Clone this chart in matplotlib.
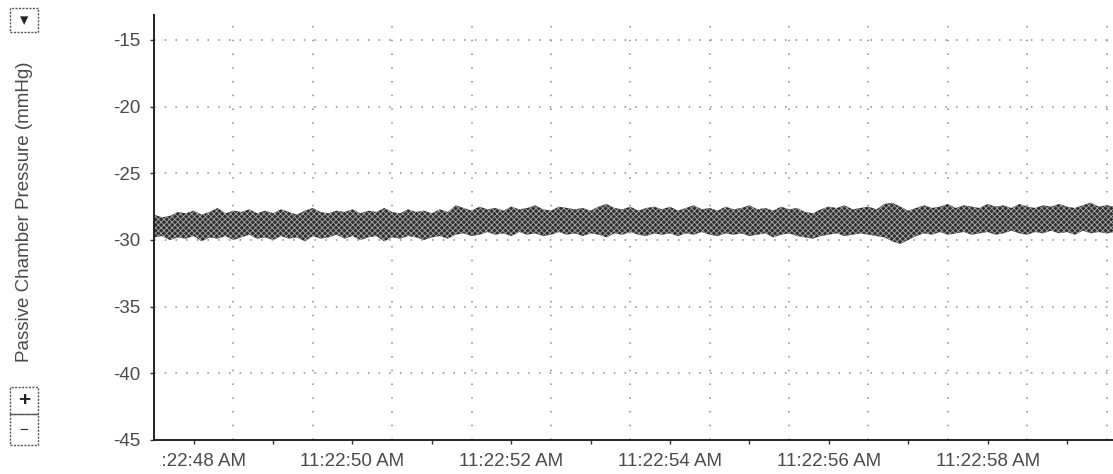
import numpy as np
import matplotlib
matplotlib.use("Agg")
import matplotlib.pyplot as plt
from matplotlib.patches import Rectangle
from matplotlib.transforms import Bbox

# ---------------- data ----------------
t_start, t_step = 47.5, 0.1      # seconds after 11:22:00
upper = [-28.1, -28.3, -28.2, -27.9,
         -28.0, -27.8, -28.1, -27.9, -27.6, -28.0, -27.8, -27.9, -27.7, -28.0,
         -27.8, -28.0, -27.7, -27.9, -28.1, -27.8, -27.6, -27.9, -28.0, -27.8,
         -27.9, -27.7, -28.0, -27.8, -27.9, -27.6, -27.9, -28.0, -27.7, -27.9,
         -27.8, -28.0, -27.7, -27.9, -27.4, -27.6, -27.8, -27.5, -27.7, -27.6,
         -27.8, -27.5, -27.7, -27.6, -27.4, -27.7, -27.8, -27.5, -27.6, -27.7,
         -27.6, -27.8, -27.5, -27.3, -27.6, -27.7, -27.5, -27.8, -27.6, -27.5,
         -27.7, -27.5, -27.8, -27.6, -27.4, -27.7, -27.6, -27.8, -27.5, -27.7,
         -27.6, -27.4, -27.7, -27.6, -27.8, -27.5, -27.7, -27.6, -27.9, -28.0,
         -27.7, -27.5, -27.6, -27.4, -27.7, -27.6, -27.5, -27.7, -27.3, -27.2,
         -27.5, -27.8, -27.6, -27.4, -27.6, -27.5, -27.3, -27.6, -27.4, -27.5,
         -27.6, -27.3, -27.5, -27.4, -27.6, -27.3, -27.5, -27.6, -27.4, -27.5,
         -27.3, -27.5, -27.6, -27.4, -27.2, -27.5, -27.4, -27.5]
lower = [-29.8, -29.7, -30.0, -29.8,
         -29.9, -29.7, -30.1, -29.8, -29.9, -29.7, -30.0, -29.8, -29.6, -29.9,
         -29.8, -30.0, -29.7, -29.9, -29.8, -30.1, -29.7, -29.9, -29.8, -29.6,
         -29.9, -29.7, -30.0, -29.8, -29.7, -30.1, -29.8, -29.9, -29.7, -29.8,
         -30.0, -29.8, -29.7, -29.9, -29.6, -29.5, -29.7, -29.6, -29.4, -29.6,
         -29.5, -29.7, -29.4, -29.6, -29.5, -29.7, -29.6, -29.4, -29.6, -29.5,
         -29.7, -29.5, -29.6, -29.8, -29.5, -29.6, -29.4, -29.6, -29.7, -29.5,
         -29.6, -29.5, -29.7, -29.5, -29.6, -29.4, -29.6, -29.7, -29.5, -29.6,
         -29.5, -29.7, -29.6, -29.5, -29.8, -29.6, -29.5, -29.7, -29.8, -29.9,
         -29.7, -29.6, -29.5, -29.7, -29.6, -29.5, -29.6, -29.7, -29.8, -30.1,
         -30.3, -30.0, -29.7, -29.5, -29.6, -29.4, -29.6, -29.5, -29.4, -29.6,
         -29.5, -29.4, -29.6, -29.5, -29.3, -29.5, -29.6, -29.4, -29.5, -29.3,
         -29.5, -29.4, -29.6, -29.3, -29.5, -29.4, -29.5, -29.4]
x_ticks = [48, 49, 50, 51, 52, 53, 54, 55, 56, 57, 58, 59]
x_tick_labels = ["11:22:48 AM", "", "11:22:50 AM", "", "11:22:52 AM", "",
                 "11:22:54 AM", "", "11:22:56 AM", "", "11:22:58 AM", ""]
y_ticks = [-45, -40, -35, -30, -25, -20, -15]
y_label = "Passive Chamber Pressure (mmHg)"

t = t_start + t_step * np.arange(len(upper))

# ---------------- figure ----------------
W, H = 1113, 474
plt.rcParams['font.family'] = ['Liberation Sans', 'DejaVu Sans']
plt.rcParams['axes.unicode_minus'] = False
plt.rcParams['hatch.linewidth'] = 0.6
fig = plt.figure(figsize=(W / 100, H / 100), dpi=100)

def fx(px):
    return px / W

def fy(py):
    return 1 - py / H

left_px, right_px, top_px, bot_px = 154, 1113, 15, 440
ax = fig.add_axes([fx(left_px), fy(bot_px), fx(right_px) - fx(left_px), fy(top_px) - fy(bot_px)])

ax.fill_between(t, lower, upper, facecolor='#2e2e2e', edgecolor='#a8a8a8',
                hatch='xxxxxx', linewidth=0, zorder=3)

ax.set_xlim(47.58, 59.58)
ax.set_ylim(-45, -13.125)

ax.set_xticks(x_ticks, x_tick_labels)
ax.set_xticks(np.arange(47.5, 60.0, 0.5), minor=True)
ax.set_yticks(y_ticks)

txtcol = '#4a4a4a'
ax.tick_params(axis='x', which='major', length=3, width=1, color='#333333',
               pad=6, labelsize=13.5, labelcolor=txtcol)
ax.tick_params(axis='x', which='minor', length=0)
ax.tick_params(axis='y', length=3, width=1, color='#333333', pad=7,
               labelsize=13.5, labelcolor=txtcol)

ax.grid(True, axis='x', which='minor', color='#8a8a8a', linestyle=(0, (1, 8)), linewidth=1.1)
ax.grid(True, axis='y', which='major', color='#8a8a8a', linestyle=(0, (1, 6)), linewidth=1.1)
ax.set_axisbelow(True)

for s in ['top', 'right']:
    ax.spines[s].set_visible(False)
for s in ['left', 'bottom']:
    ax.spines[s].set_color('#222222')
    ax.spines[s].set_linewidth(1.4)
    ax.spines[s].set_zorder(4)

# clip the first tick label just right of the plot's left edge, as in the reference
clip = Bbox([[160, 0], [W + 50, H - bot_px]])
for lab in ax.get_xticklabels():
    lab.set_clip_box(clip)
    lab.set_clip_on(True)

fig.text(fx(25), fy(212), y_label, rotation=90, ha='center', va='center',
         fontsize=13.5, color=txtcol)

# small widget buttons on the left
def box(x0, y0, x1, y1):
    fig.patches.append(Rectangle((fx(x0), fy(y1)), fx(x1) - fx(x0), fy(y0) - fy(y1),
                                 transform=fig.transFigure, fill=False,
                                 edgecolor='#555555', linewidth=1.0, linestyle=(0, (1.5, 1))))

box(10, 8, 38, 32)
fig.text(fx(24), fy(20), "\u25BE", ha='center', va='center', fontsize=12,
         color='#222222', family=['DejaVu Sans'])
box(10, 387, 38, 414)
box(10, 414, 38, 445)
fig.text(fx(24), fy(400), "+", ha='center', va='center', fontsize=15,
         fontweight='bold', color='#222222')
fig.text(fx(24), fy(430), "\u2212", ha='center', va='center', fontsize=11,
         color='#222222')

fig.savefig("out.png", dpi=100)
